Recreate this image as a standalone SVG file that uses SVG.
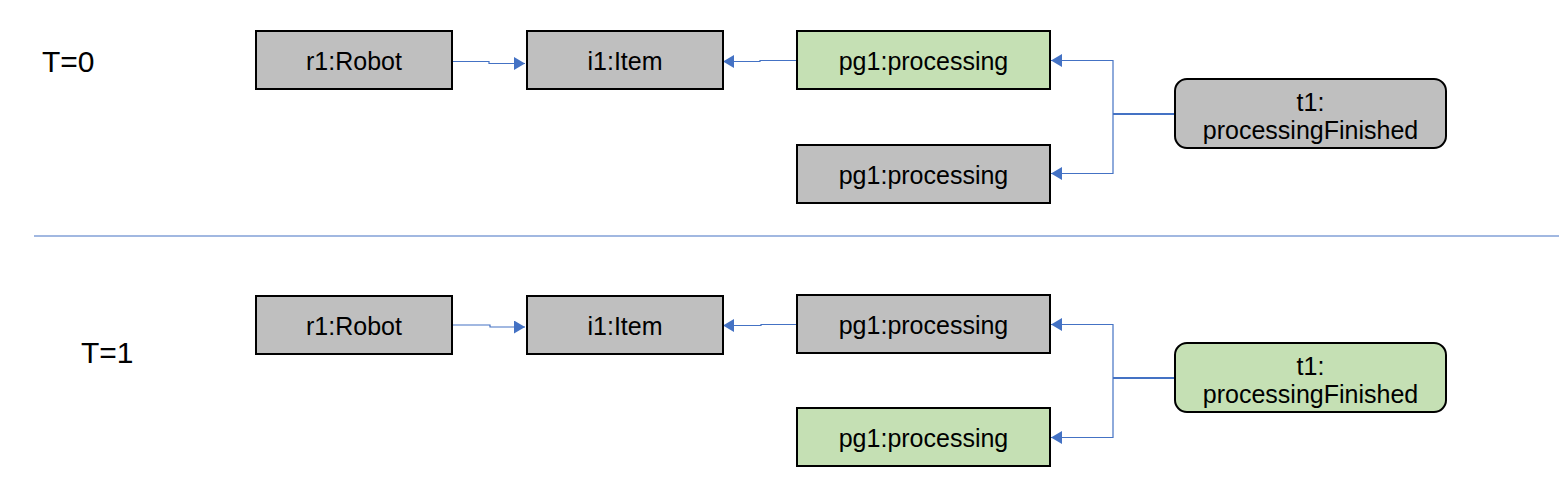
<svg xmlns="http://www.w3.org/2000/svg" width="1559" height="479" viewBox="0 0 1559 479">
<style>
  text { font-family: "Liberation Sans", Arial, sans-serif; fill: #000; }
  .lbl { font-size: 25px; text-anchor: middle; }
  .time { font-size: 30px; }
  .box { stroke: #000; stroke-width: 2; }
  .gray { fill: #BFBFBF; }
  .green { fill: #C5E0B4; }
  .con { fill: none; stroke: #4472C4; stroke-width: 1.2; }
  .stem { fill: none; stroke: #4472C4; stroke-width: 2; }
  .div { stroke: #4472C4; stroke-width: 1.2; }
</style>
<defs>
  <marker id="arr" markerUnits="userSpaceOnUse" markerWidth="12" markerHeight="13" refX="11" refY="6.5" orient="auto">
    <path d="M0,0 L11,6.5 L0,13 Z" fill="#4472C4"/>
  </marker>
</defs>

<text class="time" x="42" y="72">T=0</text>
<text class="time" x="81" y="363">T=1</text>
<line class="div" x1="34" y1="236" x2="1559" y2="236"/>

<g id="connectors">
  <!-- T=0 -->
  <path class="con" d="M452,61.5 H489 V63.5 H525" marker-end="url(#arr)"/>
  <path class="con" d="M797,60.5 H760 V61.5 H723" marker-end="url(#arr)"/>
  <path class="stem" d="M1175,114 H1113"/>
  <path class="con" d="M1113,114 V60.5 H1051" marker-end="url(#arr)"/>
  <path class="con" d="M1113,114 V173.5 H1051" marker-end="url(#arr)"/>
  <!-- T=1 -->
  <path class="con" d="M452,325 H490 V327 H525" marker-end="url(#arr)"/>
  <path class="con" d="M797,324.5 H761 V325.5 H723" marker-end="url(#arr)"/>
  <path class="stem" d="M1175,378 H1113"/>
  <path class="con" d="M1113,378 V324.5 H1051" marker-end="url(#arr)"/>
  <path class="con" d="M1113,378 V437.5 H1051" marker-end="url(#arr)"/>
</g>

<g id="r1_t0"><rect class="box gray" x="256" y="31" width="196" height="58"/><text class="lbl" x="354" y="70">r1:Robot</text></g>
<g id="i1_t0"><rect class="box gray" x="527" y="31" width="196" height="58"/><text class="lbl" x="625" y="70">i1:Item</text></g>
<g id="pg1a_t0"><rect class="box green" x="797" y="31" width="253" height="58"/><text class="lbl" x="923.5" y="70">pg1:processing</text></g>
<g id="pg1b_t0"><rect class="box gray" x="797" y="145" width="253" height="58"/><text class="lbl" x="923.5" y="184">pg1:processing</text></g>
<g id="t1_t0"><rect class="box gray" x="1175" y="79" width="271" height="69" rx="12" ry="12"/><text class="lbl" x="1310.5" y="111">t1:</text><text class="lbl" x="1310.5" y="139">processingFinished</text></g>

<g id="r1_t1"><rect class="box gray" x="256" y="296" width="196" height="58"/><text class="lbl" x="354" y="335">r1:Robot</text></g>
<g id="i1_t1"><rect class="box gray" x="527" y="296" width="196" height="58"/><text class="lbl" x="625" y="335">i1:Item</text></g>
<g id="pg1a_t1"><rect class="box gray" x="797" y="295" width="253" height="58"/><text class="lbl" x="923.5" y="334">pg1:processing</text></g>
<g id="pg1b_t1"><rect class="box green" x="797" y="408" width="253" height="58"/><text class="lbl" x="923.5" y="447">pg1:processing</text></g>
<g id="t1_t1"><rect class="box green" x="1175" y="343" width="271" height="69" rx="12" ry="12"/><text class="lbl" x="1310.5" y="375">t1:</text><text class="lbl" x="1310.5" y="403">processingFinished</text></g>
</svg>
